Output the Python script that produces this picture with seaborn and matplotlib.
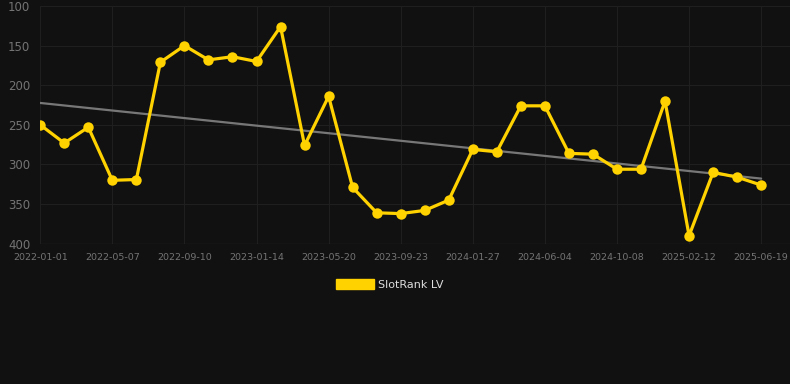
import numpy as np
import pandas as pd
import seaborn as sns
import matplotlib.pyplot as plt

# category labels (every third point shown on the axis)
dates = ["2022-01-01", "2022-02-12", "2022-03-26", "2022-05-07", "2022-06-18", "2022-07-30",
         "2022-09-10", "2022-10-22", "2022-12-03", "2023-01-14", "2023-02-25", "2023-04-08",
         "2023-05-20", "2023-07-01", "2023-08-12", "2023-09-23", "2023-11-04", "2023-12-16",
         "2024-01-27", "2024-03-09", "2024-04-20", "2024-06-04", "2024-07-16", "2024-08-27",
         "2024-10-08", "2024-11-19", "2024-12-31", "2025-02-12", "2025-03-26", "2025-05-07",
         "2025-06-19"]
ranks = [250, 273, 253, 320, 319, 171, 150, 168, 164, 170, 126, 276, 214, 329, 361, 362,
         358, 345, 281, 284, 226, 226, 286, 287, 306, 306, 220, 390, 310, 316, 326]

df = pd.DataFrame({"date": dates, "rank": ranks})
df["idx"] = np.arange(len(df))

bg = "#111111"
sns.set_style("dark")
plt.rcParams["font.family"] = ["DejaVu Sans"]

fig = plt.figure(figsize=(7.9, 3.84), dpi=100, facecolor=bg)
ax = fig.add_axes([40 / 790, 1 - 243.7 / 384, 750 / 790, (243.7 - 6) / 384])
ax.set_facecolor(bg)

# trend line
coef = np.polyfit(df["idx"], df["rank"], 1)
ax.plot(df["idx"], np.polyval(coef, df["idx"]), color="#777777", lw=1.6, zorder=2)

sns.lineplot(data=df, x="idx", y="rank", ax=ax, color="#FFD200", lw=2.3, marker="o",
             markersize=7.5, markeredgewidth=0, zorder=3, label="SlotRank LV", legend=False)

ax.set_xlim(-0.01, 31.2)
ax.set_ylim(400, 100)
ax.set_yticks([100, 150, 200, 250, 300, 350, 400])
ticks = list(range(0, len(dates), 3))
ax.set_xticks(ticks)
ax.set_xticklabels([dates[i] for i in ticks])
ax.grid(True, color="#1f1f1f", lw=0.8)
for s in ax.spines.values():
    s.set_visible(False)
ax.axhline(400, color="#2a2a2a", lw=0.9, zorder=1)
ax.tick_params(axis="y", colors="#1f1f1f", labelcolor="#747474", labelsize=8.5, length=4, pad=3)
ax.tick_params(axis="x", colors="#1f1f1f", labelcolor="#747474", labelsize=6.8, length=4, pad=3)
ax.set_xlabel("")
ax.set_ylabel("")

handle = plt.Rectangle((0, 0), 1, 1, color="#FFD200")
fig.legend([handle], ["SlotRank LV"], loc="center", bbox_to_anchor=(0.5 - 5 / 790, 1 - 284.5 / 384),
           frameon=False, fontsize=8, labelcolor="#dddddd", handlelength=3.4, handleheight=0.9,
           handletextpad=0.4)

fig.savefig("out.png", dpi=100, facecolor=bg)
